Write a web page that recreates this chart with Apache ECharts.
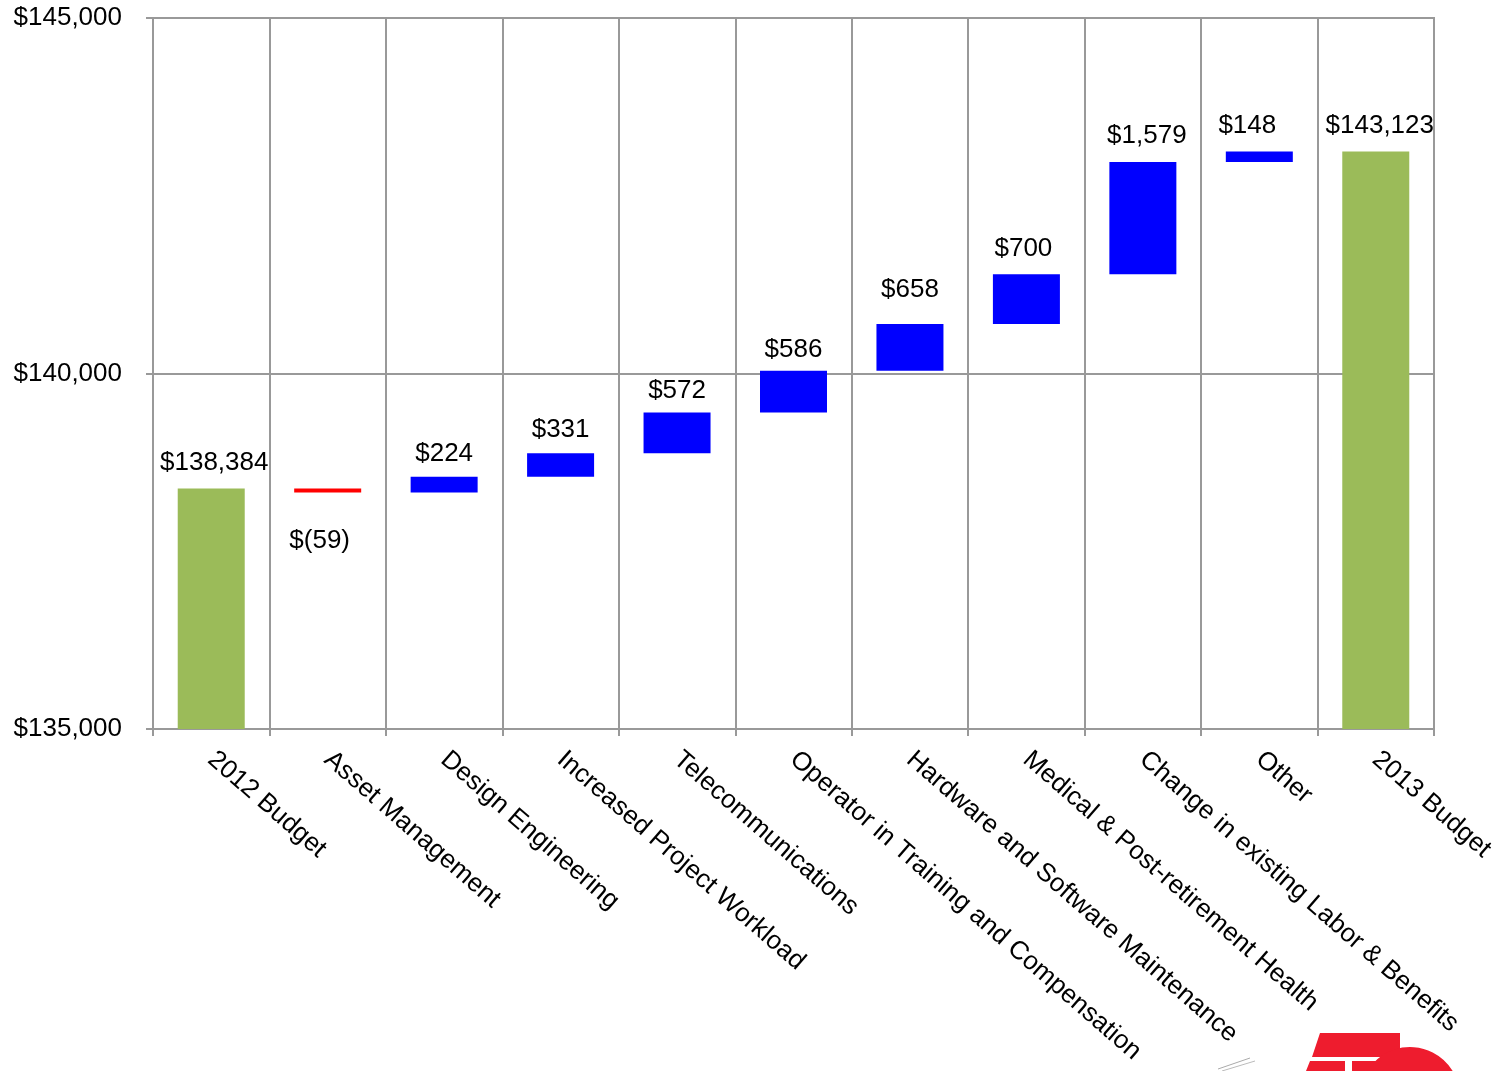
<!DOCTYPE html>
<html>
<head>
<meta charset="utf-8">
<script src="https://cdn.jsdelivr.net/npm/echarts@6/dist/echarts.min.js"></script>
<style>html,body{margin:0;padding:0;background:#fff}#c{width:1502px;height:1071px}</style>
</head>
<body>
<div id="c"></div>
<script>
var categories = ['2012 Budget','Asset Management','Design Engineering','Increased Project Workload','Telecommunications','Operator in Training and Compensation','Hardware and Software Maintenance','Medical & Post-retirement Health','Change in existing Labor & Benefits','Other','2013 Budget'];
var changes = [138384, -59, 224, 331, 572, 586, 658, 700, 1579, 148, 143123];
var isTotal = [true, false, false, false, false, false, false, false, false, false, true];
var yTicks = [135000, 140000, 145000];

var GREEN = '#9BBB59', BLUE = '#0000FF', RED = '#FF0000';
var FONT = 'Liberation Sans, Arial, sans-serif';
// label placement tweaks (style only)
var labelDist = [13, 35, 10, 10, 9, 8, 21, 12, 13, 13, 13];
var labelDx = [3, -8, 0, 0, 0, 0, 0, -3, 4, -12, 4];
function money(v){ return '$' + Math.abs(v).toLocaleString('en-US'); }

var baseData = [], barData = [];
var running = 0;
changes.forEach(function(v, i){
  var lbl = {distance: labelDist[i], offset: [labelDx[i], 0]};
  if (isTotal[i]) {
    running = v;
    baseData.push(0);
    lbl.formatter = money(v);
    barData.push({value: v, itemStyle:{color: GREEN}, label: lbl});
  } else if (v >= 0) {
    baseData.push(running);
    lbl.formatter = money(v);
    barData.push({value: v, itemStyle:{color: BLUE}, label: lbl});
    running += v;
  } else {
    running += v;
    baseData.push(running);
    lbl.position = 'bottom';
    lbl.formatter = '$(' + Math.abs(v) + ')';
    barData.push({value: -v, itemStyle:{color: RED}, label: lbl});
  }
});

var chart = echarts.init(document.getElementById('c'));
var gridColor = '#999999';
chart.setOption({
  animation: false,
  textStyle: {fontFamily: FONT},
  grid: {left: 153, right: 68, top: 18, bottom: 342, show: true, borderColor: gridColor, borderWidth: 2, backgroundColor: 'transparent'},
  xAxis: {
    type: 'category',
    data: categories,
    boundaryGap: true,
    axisLine: {show: true, lineStyle: {color: gridColor, width: 2}},
    axisTick: {show: true, length: 7, lineStyle: {color: gridColor, width: 2}},
    splitLine: {show: true, lineStyle: {color: gridColor, width: 2}},
    axisLabel: {interval: 0, rotate: -41, color: '#000', fontSize: 26, margin: 27, fontFamily: FONT}
  },
  yAxis: {
    type: 'value',
    min: yTicks[0], max: yTicks[yTicks.length-1], interval: yTicks[1]-yTicks[0],
    axisLine: {show: true, lineStyle: {color: gridColor, width: 2}},
    axisTick: {show: true, length: 7, lineStyle: {color: gridColor, width: 2}},
    splitLine: {show: true, lineStyle: {color: gridColor, width: 2}},
    axisLabel: {color: '#000', fontSize: 26, margin: 31, formatter: function(v){ return '$' + v.toLocaleString('en-US'); }, fontFamily: FONT}
  },
  series: [
    {type: 'bar', stack: 'w', data: baseData, itemStyle: {color: 'transparent'}, barWidth: 67, silent: true},
    {type: 'bar', stack: 'w', data: barData, barWidth: 67,
     label: {show: true, position: 'top', color: '#000', fontSize: 26, fontFamily: FONT}}
  ],
  graphic: [
    {type: 'polygon', shape: {points: [[1320,1033],[1400,1033],[1400,1057],[1312,1057]]}, style: {fill: '#EE1C2E'}},
    {type: 'polygon', shape: {points: [[1310,1061],[1345,1061],[1345,1071],[1306,1071]]}, style: {fill: '#EE1C2E'}},
    {type: 'rect', shape: {x: 1352, y: 1061, width: 30, height: 10}, style: {fill: '#EE1C2E'}},
    {type: 'sector', shape: {cx: 1410, cy: 1097, r0: 0, r: 50, startAngle: Math.PI * 1.15, endAngle: Math.PI * 1.85}, style: {fill: '#EE1C2E'}},
    {type: 'line', shape: {x1: 1218, y1: 1069, x2: 1250, y2: 1058}, style: {stroke: '#aaa', lineWidth: 1}},
    {type: 'line', shape: {x1: 1222, y1: 1071, x2: 1255, y2: 1061}, style: {stroke: '#bbb', lineWidth: 1}}
  ]
});
</script>
</body>
</html>
